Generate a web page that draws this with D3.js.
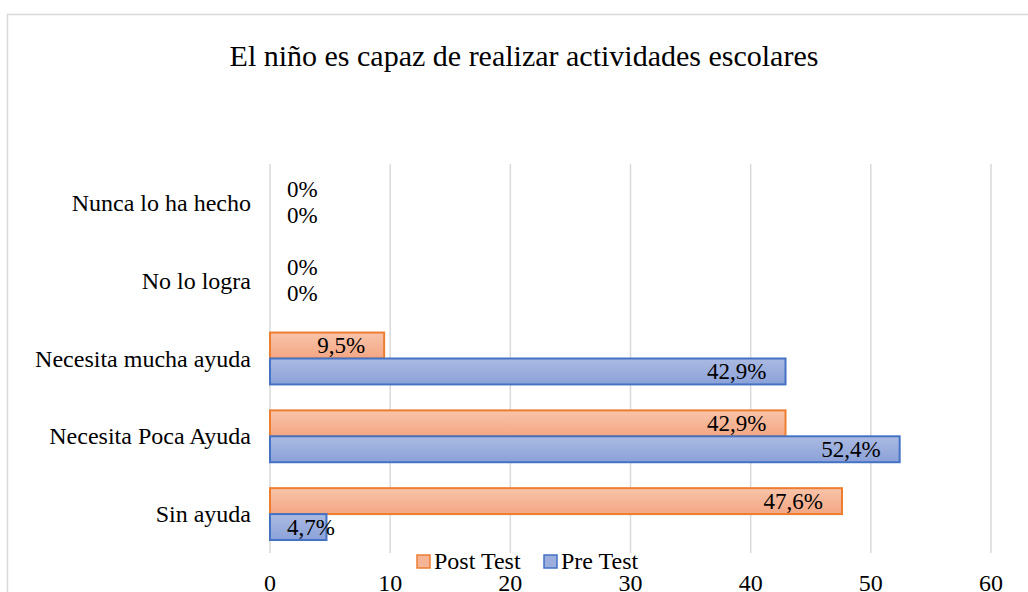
<!DOCTYPE html>
<meta charset="utf-8">
<style>
body { margin: 0; background: #fff; }
text { font-family: "Liberation Serif", "Times New Roman", serif; fill: #000; }
</style>
<div id="chart"></div>
<script src="https://d3js.org/d3.v7.min.js"></script>
<script>
// categories, top to bottom
var categories = ["Nunca lo ha hecho", "No lo logra", "Necesita mucha ayuda", "Necesita Poca Ayuda", "Sin ayuda"];
var series = ["Post Test", "Pre Test"];
var postTest = [0, 0, 9.5, 42.9, 47.6];
var preTest = [0, 0, 42.9, 52.4, 4.7];
var xTicks = [0, 10, 20, 30, 40, 50, 60];

var W = 1028, H = 592;
var margin = {top: 164, left: 270, right: 37, bottom: 39};

var svg = d3.select("#chart").append("svg")
  .attr("width", W)
  .attr("height", H);

// gradients for bars
var defs = svg.append("defs");
function grad(id, c1, c2) {
  var g = defs.append("linearGradient").attr("id", id)
    .attr("x1", 0).attr("y1", 0).attr("x2", 0).attr("y2", 1);
  g.append("stop").attr("offset", "0%").attr("stop-color", c1);
  g.append("stop").attr("offset", "100%").attr("stop-color", c2);
}
grad("gPost", "#f9c4aa", "#f3a683");
grad("gPre", "#aabae2", "#8ba1d8");

var fills = {"Post Test": "url(#gPost)", "Pre Test": "url(#gPre)"};
var strokes = {"Post Test": "#ed7d31", "Pre Test": "#4472c4"};
var swatch = {"Post Test": "#f6b496", "Pre Test": "#9caedd"};

// outer frame
svg.append("rect")
  .attr("x", 7.5).attr("y", 14.5)
  .attr("width", W + 20).attr("height", H + 20)
  .attr("fill", "none")
  .attr("stroke", "#d9d9d9")
  .attr("stroke-width", 1.5);

// title
svg.append("text")
  .attr("x", 524).attr("y", 55)
  .attr("text-anchor", "middle")
  .attr("dominant-baseline", "central")
  .style("font-size", "30px")
  .text("El niño es capaz de realizar actividades escolares");

var x = d3.scaleLinear()
  .domain([0, 60])
  .range([margin.left, W - margin.right]);

var y = d3.scaleBand()
  .domain(categories)
  .range([margin.top, H - margin.bottom]);

var ySub = d3.scaleBand()
  .domain(series)
  .range([0, y.bandwidth()])
  .paddingOuter(0.5);

// gridlines
svg.append("g")
  .selectAll("line")
  .data(xTicks)
  .join("line")
    .attr("x1", d => x(d)).attr("x2", d => x(d))
    .attr("y1", margin.top).attr("y2", H - margin.bottom)
    .attr("stroke", "#d9d9d9")
    .attr("stroke-width", 1.5);

// x tick labels
svg.append("g")
  .selectAll("text")
  .data(xTicks)
  .join("text")
    .attr("x", d => x(d))
    .attr("y", 582.5)
    .attr("text-anchor", "middle")
    .attr("dominant-baseline", "central")
    .style("font-size", "24px")
    .text(d => d);

// category labels
svg.append("g")
  .selectAll("text")
  .data(categories)
  .join("text")
    .attr("x", 251)
    .attr("y", d => y(d) + y.bandwidth() / 2)
    .attr("text-anchor", "end")
    .attr("dominant-baseline", "central")
    .style("font-size", "24px")
    .text(d => d);

// bars
var rows = [];
categories.forEach(function(c, i) {
  rows.push({cat: c, s: "Post Test", v: postTest[i]});
  rows.push({cat: c, s: "Pre Test", v: preTest[i]});
});

svg.append("g")
  .selectAll("rect")
  .data(rows.filter(d => d.v > 0))
  .join("rect")
    .attr("x", x(0))
    .attr("y", d => y(d.cat) + ySub(d.s))
    .attr("width", d => x(d.v) - x(0))
    .attr("height", ySub.bandwidth())
    .attr("fill", d => fills[d.s])
    .attr("stroke", d => strokes[d.s])
    .attr("stroke-width", 2);

// data labels
var fmt = function(v) { return v === 0 ? "0%" : String(v).replace(".", ",") + "%"; };
svg.append("g")
  .selectAll("text")
  .data(rows)
  .join("text")
    .attr("y", d => y(d.cat) + ySub(d.s) + ySub.bandwidth() / 2)
    .attr("text-anchor", "end")
    .attr("dominant-baseline", "central")
    .style("font-size", "23px")
    .text(d => fmt(d.v))
    .attr("x", function(d) {
      var w = this.getComputedTextLength();
      return Math.max(x(d.v) - 19, x(0) + 17 + w);
    });

// legend
var legend = svg.append("g");
var legItems = [{s: "Post Test", x: 417}, {s: "Pre Test", x: 544}];
legItems.forEach(function(l) {
  legend.append("rect")
    .attr("x", l.x).attr("y", 555)
    .attr("width", 13).attr("height", 13)
    .attr("fill", swatch[l.s])
    .attr("stroke", strokes[l.s])
    .attr("stroke-width", 1.5);
  legend.append("text")
    .attr("x", l.x + 17).attr("y", 561)
    .attr("dominant-baseline", "central")
    .style("font-size", "24px")
    .text(l.s);
});
</script>
